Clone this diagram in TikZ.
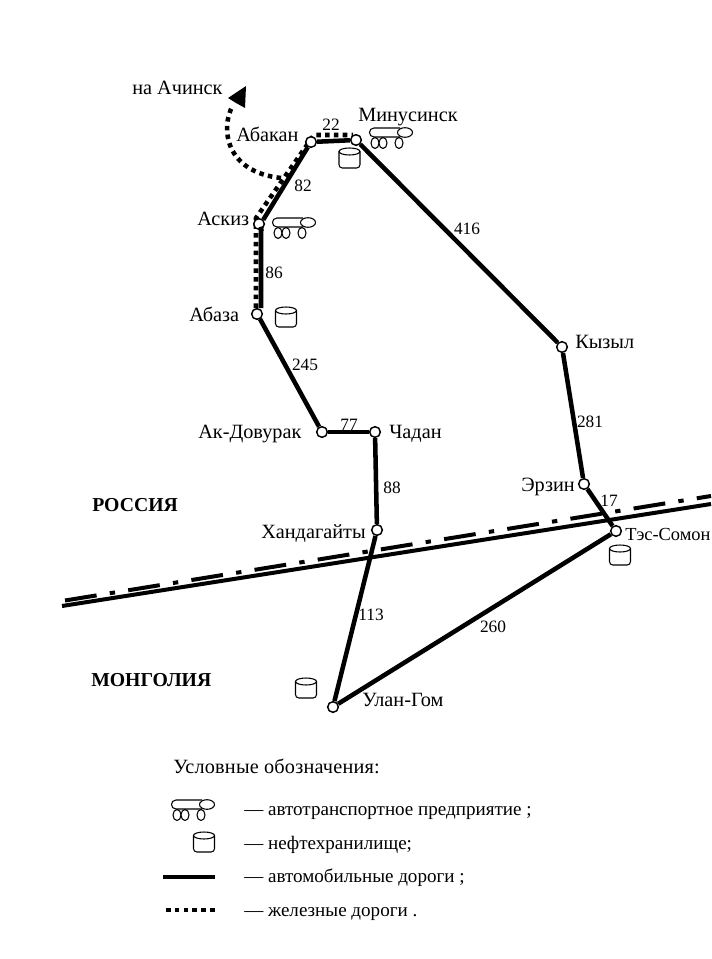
\documentclass[tikz,border=0pt]{standalone}
\usepackage{fontspec}
\setmainfont{Liberation Serif}
\tikzset{
  x=0.75pt,y=-0.75pt,
  road/.style={line width=3.4pt,black},
  rail/.style={line width=3.4pt,black,dash pattern=on 3.4pt off 3.2pt},
  borderline/.style={line width=3pt,black},
  borderdash/.style={line width=3pt,black,dash pattern=on 24pt off 10pt on 4pt off 10pt},
  town/.style={circle,draw=black,fill=white,line width=1.1pt,minimum size=8pt,inner sep=0pt},
  lbl/.style={font=\fontsize{15.2pt}{17pt}\selectfont,inner sep=0pt,anchor=base west},
  leg/.style={font=\fontsize{14.3pt}{17pt}\selectfont,inner sep=0pt,anchor=base west},
  num/.style={font=\fontsize{13pt}{14pt}\selectfont,inner sep=0pt},
  boldlbl/.style={font=\fontsize{14.8pt}{17pt}\selectfont\bfseries,inner sep=0pt,anchor=base west},
  truck/.pic={
    \draw[line width=0.8pt] (25,-7) -- (-1,-7) .. controls (-7,-7) and (-7,2) .. (-1,2) -- (25,2);
    \draw[line width=0.8pt,fill=white] (30,-2.5) ellipse (7.5 and 4.8);
    \draw[line width=0.8pt,fill=white] (0,8) ellipse (4 and 5.5);
    \draw[line width=0.8pt,fill=white] (8,8) ellipse (4 and 5.5);
    \draw[line width=0.8pt,fill=white] (24,8) ellipse (4 and 5.5);
  },
  barrel/.pic={
    \draw[line width=0.8pt,rounded corners=2.5pt] (-10.5,-6.5) -- (-10.5,10) -- (10.5,10) -- (10.5,-6.5);
    \draw[line width=0.8pt,fill=white] (0,-6.5) ellipse (10.5 and 3.5);
  }
}
\begin{document}
\begin{tikzpicture}
\useasboundingbox (0,0) rectangle (711,959);
% border
\coordinate (bl1) at (62,606); \coordinate (br1) at (711,504);
\coordinate (bl2) at (65,600.5); \coordinate (br2) at (711,496);
\draw[borderline] (bl1) -- (br1);
\draw[borderdash] (bl2) -- (br2);
% railway
\coordinate (ra) at (246,86);
\coordinate (rb) at (233,105);
\coordinate (rj) at (281,178);
\coordinate (r1) at (256,308);
\coordinate (r2) at (256,218);
\coordinate (r3) at (307,145);
\coordinate (r4) at (314,135);
\coordinate (r5) at (353,135);
\draw[rail] (r1) -- (r2) -- (r3) -- (r4) -- (r5);
\draw[rail] (rj) .. controls (225,172) and (220,128) .. (rb);
\fill (ra) -- (245,108) -- (236,103) -- (228,98) -- cycle;
% towns
\node[town] (abakan) at (311,142) {};
\node[town] (minus) at (356,140) {};
\node[town] (askiz) at (259,224) {};
\node[town] (abaza) at (257,314) {};
\node[town] (akd) at (322,432) {};
\node[town] (chadan) at (375,432) {};
\node[town] (hand) at (377,530) {};
\node[town] (kyzyl) at (562,347) {};
\node[town] (erzin) at (584,484) {};
\node[town] (tes) at (616,531) {};
\node[town] (ulan) at (333,707) {};
% roads
\coordinate (q1) at (261,229);
\coordinate (q2) at (261,308);
\coordinate (q3) at (260,319);
\draw[road] (abakan) -- (minus);
\draw[road] (abakan) -- (askiz.north east);
\draw[road] (askiz.south east) -- (q1) -- (q2);
\draw[road] (q3) -- (akd);
\draw[road] (akd) -- (chadan);
\draw[road] (chadan) -- (hand);
\draw[road] (hand) -- (ulan);
\draw[road] (ulan) -- (tes);
\draw[road] (tes) -- (erzin);
\draw[road] (erzin) -- (kyzyl);
\draw[road] (kyzyl) -- (minus);
% labels
\node[lbl] (l1) at (132,95) {на Ачинск};
\node[lbl] (l2) at (236,141.5) {Абакан};
\node[lbl] (l3) at (358,121.5) {Минусинск};
\node[lbl] (l4) at (197,226) {Аскиз};
\node[lbl] (l5) at (189,321.5) {Абаза};
\node[lbl] (l6) at (198,438.5) {Ак-Довурак};
\node[lbl] (l7) at (389,438.5) {Чадан};
\node[lbl] (l8) at (261,538) {Хандагайты};
\node[lbl] (l9) at (575,348) {Кызыл};
\node[lbl] (l10) at (521,491) {Эрзин};
\node[lbl,font=\fontsize{13.8pt}{17pt}\selectfont] (l11) at (625,540.5) {Тэс-Сомон};
\node[lbl] (l12) at (362,706) {Улан-Гом};
\node[boldlbl] (r) at (92,511) {РОССИЯ};
\node[boldlbl] (m) at (91,686) {МОНГОЛИЯ};
\node[num] (n22) at (331,125) {22};
\node[num] (n82) at (303,186) {82};
\node[num] (n86) at (274,273) {86};
\node[num] (n245) at (305,365) {245};
\node[num] (n77) at (349,425) {77};
\node[num] (n88) at (392,488) {88};
\node[num] (n113) at (371,615) {113};
\node[num] (n260) at (493,627) {260};
\node[num] (n416) at (467,229) {416};
\node[num] (n281) at (590,422) {281};
\node[num] (n17) at (609,501) {17};
% symbols
\pic at (375,135) {truck};
\pic at (278,225) {truck};
\pic at (349.5,158) {barrel};
\pic at (286,317) {barrel};
\pic at (620,555) {barrel};
\pic at (306,688) {barrel};
% legend
\node[lbl] (lt) at (173,773) {\addfontfeature{LetterSpace=1}Условные обозначения:};
\pic at (177,807) {truck};
\pic at (204,842) {barrel};
\coordinate (la) at (163,877); \coordinate (lb) at (215,877);
\draw[road] (la) -- (lb);
\coordinate (lc) at (166,910); \coordinate (ld) at (215,910);
\draw[rail] (lc) -- (ld);
\node[leg] (t1) at (244,815) {— автотранспортное предприятие ;};
\node[leg] (t2) at (244,849) {— нефтехранилище;};
\node[leg] (t3) at (244,882) {— автомобильные дороги ;};
\node[leg] (t4) at (244,916) {— железные дороги .};
\end{tikzpicture}
\end{document}
